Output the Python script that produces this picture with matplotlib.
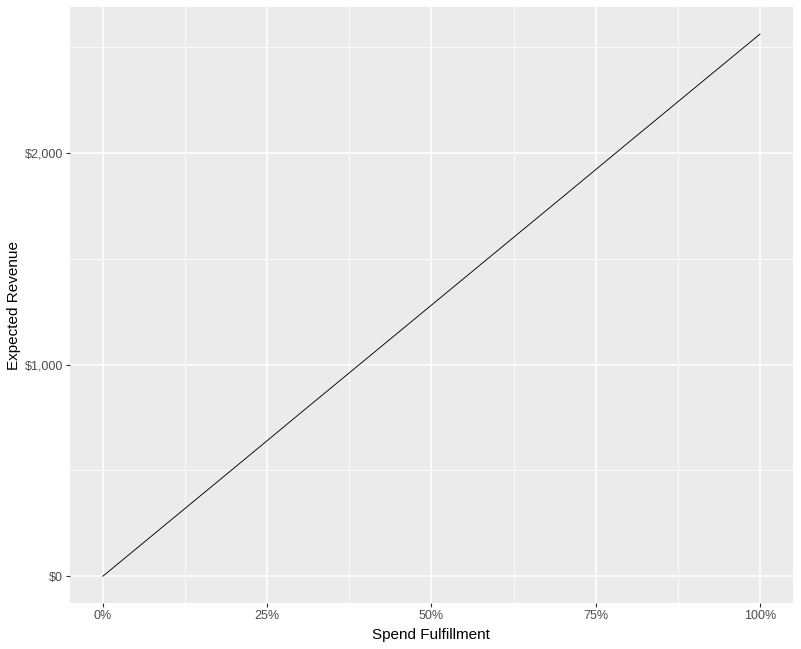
import matplotlib
matplotlib.use("Agg")
import matplotlib.pyplot as plt
from matplotlib.ticker import FuncFormatter, MultipleLocator

fulfillment = [0.0, 0.1, 0.2, 0.3, 0.4, 0.5, 0.6, 0.7, 0.8, 0.9, 1.0]
revenue = [0, 256, 512, 769, 1025, 1281, 1537, 1793, 2050, 2306, 2562]
x_ticks = [0, 0.25, 0.5, 0.75, 1.0]
y_ticks = [0, 1000, 2000]

plt.rcParams['font.family'] = ['Liberation Sans', 'DejaVu Sans']

fig = plt.figure(figsize=(8.01, 6.49), dpi=100)
W, H = 801, 649
left, right, top, bottom = 70, 792.8, 7, 603.3
ax = fig.add_axes([left / W, (H - bottom) / H, (right - left) / W, (bottom - top) / H])
ax.set_facecolor('#EBEBEB')
for s in ax.spines.values():
    s.set_visible(False)

ax.plot(fulfillment, revenue, color='black', lw=0.65, zorder=3)

xr = max(fulfillment) - min(fulfillment)
ax.set_xlim(min(fulfillment) - 0.05 * xr, max(fulfillment) + 0.05 * xr)
yr = max(revenue) - min(revenue)
ax.set_ylim(min(revenue) - 0.05 * yr, max(revenue) + 0.05 * yr)

ax.set_xticks(x_ticks)
ax.set_yticks(y_ticks)
ax.xaxis.set_minor_locator(MultipleLocator(0.125))
ax.yaxis.set_minor_locator(MultipleLocator(500))
ax.xaxis.set_major_formatter(FuncFormatter(lambda v, p: f"{v*100:.0f}%"))
ax.yaxis.set_major_formatter(FuncFormatter(lambda v, p: f"${v:,.0f}"))

ax.grid(which='major', color='white', lw=1.1, zorder=1)
ax.grid(which='minor', color='white', lw=0.55, zorder=1)
ax.set_axisbelow(True)

ax.tick_params(which='major', length=3, width=0.8, color='#333333', labelcolor='#4D4D4D', labelsize=9, pad=2)
ax.tick_params(which='minor', length=0)

ax.set_xlabel('Spend Fulfillment', fontsize=11, color='black', labelpad=4)
ax.set_ylabel('Expected Revenue', fontsize=11, color='black', labelpad=3)

fig.savefig('out.png', dpi=100, facecolor='white')
